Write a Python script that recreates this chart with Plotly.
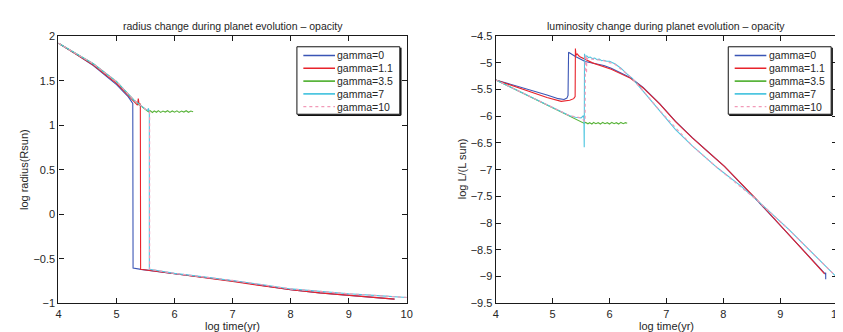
import plotly.graph_objects as go

W, H = 843, 332

# ---------------- data ----------------
names = ["gamma=0", "gamma=1.1", "gamma=3.5", "gamma=7", "gamma=10"]
colors = ["#3a55b5", "#e8232b", "#5ab43c", "#4ec6e0", "#f29ab8"]
dashes = ["solid", "solid", "solid", "solid", "dot"]

x_ticks = [4, 5, 6, 7, 8, 9, 10]
r_ticks = [-1, -0.5, 0, 0.5, 1, 1.5, 2]
l_ticks = [-9.5, -9, -8.5, -8, -7.5, -7, -6.5, -6, -5.5, -5, -4.5]

# radius panel (log time, log radius)
r_t_g0 = [4.0, 4.3, 4.6, 5.0, 5.2, 5.28, 5.285, 5.42, 6.0, 6.5, 7.0, 7.5, 8.0, 8.5, 9.0, 9.5, 9.79]
r_y_g0 = [1.92, 1.80, 1.67, 1.455, 1.32, 1.245, -0.605, -0.62, -0.67, -0.71, -0.75, -0.80, -0.85, -0.885, -0.91, -0.935, -0.955]

r_t_g1 = [4.0, 4.3, 4.6, 5.0, 5.2, 5.36, 5.375, 5.39, 5.41, 5.415, 6.0, 6.5, 7.0, 7.5, 8.0, 8.5, 9.0, 9.5, 9.79]
r_y_g1 = [1.92, 1.80, 1.675, 1.47, 1.34, 1.225, 1.30, 1.23, 1.24, -0.62, -0.67, -0.71, -0.755, -0.805, -0.85, -0.885, -0.91, -0.935, -0.955]

r_t_g35 = [4.0, 4.3, 4.6, 5.0, 5.3, 5.5, 5.55, 5.58, 5.62, 5.65, 5.69, 5.72, 5.76, 5.8, 5.84, 5.88,
           5.92, 5.96, 6.0, 6.04, 6.08, 6.12, 6.16, 6.2, 6.24, 6.28, 6.32]
r_y_g35 = [1.92, 1.805, 1.69, 1.49, 1.28, 1.175, 1.15, 1.162, 1.142, 1.16, 1.145, 1.163, 1.143, 1.158, 1.147, 1.162,
           1.144, 1.16, 1.146, 1.161, 1.143, 1.159, 1.147, 1.162, 1.145, 1.158, 1.15]

r_t_g7 = [4.0, 4.3, 4.6, 5.0, 5.3, 5.5, 5.54, 5.55, 5.56, 5.565, 5.565, 6.0, 6.5, 7.0, 7.5, 8.0, 8.5, 9.0, 9.5, 10.0]
r_y_g7 = [1.92, 1.805, 1.69, 1.49, 1.28, 1.18, 1.165, 1.19, 1.16, 1.15, -0.62, -0.665, -0.705, -0.745, -0.79, -0.84, -0.87, -0.895, -0.915, -0.936]

r_t_g10 = [4.0, 4.3, 4.6, 5.0, 5.3, 5.5, 5.56, 5.57, 5.57, 6.0, 7.0, 8.0, 9.0, 10.0]
r_y_g10 = [1.92, 1.805, 1.69, 1.49, 1.28, 1.18, 1.16, 1.15, -0.62, -0.665, -0.745, -0.84, -0.895, -0.936]

# luminosity panel (log time, log L/Lsun)
l_t_g0 = [4.0, 4.5, 4.9, 5.1, 5.2, 5.25, 5.27, 5.28, 5.4, 5.57, 5.9, 6.03, 6.37, 6.59, 6.88, 7.16,
          7.45, 7.73, 8.02, 8.58, 9.15, 9.79, 9.8, 9.8]
l_y_g0 = [-5.32, -5.47, -5.60, -5.67, -5.685, -5.66, -5.61, -4.80, -4.88, -4.975, -5.05, -5.10, -5.28, -5.46, -5.765, -6.095,
          -6.395, -6.665, -6.94, -7.56, -8.21, -8.95, -8.93, -9.05]

l_t_g1 = [4.0, 4.5, 4.9, 5.15, 5.3, 5.37, 5.395, 5.40, 5.41, 5.43, 5.47, 5.7, 6.03, 6.37, 6.59, 6.88,
          7.16, 7.45, 7.73, 8.02, 8.58, 9.15, 9.78]
l_y_g1 = [-5.32, -5.50, -5.65, -5.72, -5.70, -5.67, -5.63, -4.73, -4.86, -4.83, -4.88, -5.0, -5.12, -5.29, -5.47, -5.77,
          -6.10, -6.40, -6.67, -6.94, -7.55, -8.21, -8.95]

l_t_g35 = [4.0, 4.5, 5.0, 5.3, 5.55, 5.58, 5.62, 5.65, 5.69, 5.72, 5.76, 5.8, 5.84, 5.88,
           5.92, 5.96, 6.0, 6.04, 6.08, 6.12, 6.16, 6.2, 6.24, 6.28, 6.31]
l_y_g35 = [-5.32, -5.58, -5.83, -5.99, -6.13, -6.115, -6.14, -6.12, -6.145, -6.115, -6.14, -6.12, -6.145, -6.115,
           -6.14, -6.12, -6.145, -6.115, -6.14, -6.12, -6.145, -6.115, -6.14, -6.12, -6.13]

l_t_g7 = [4.0, 4.5, 5.0, 5.3, 5.4, 5.5, 5.54, 5.55, 5.555, 5.56, 5.565, 5.575, 5.6, 5.63, 5.66, 5.7,
          5.74, 5.78, 5.82, 5.86, 5.9, 5.95, 6.0, 6.1, 6.2, 6.3, 6.4, 6.59, 6.88, 7.16, 7.45, 7.73,
          7.9, 8.3, 8.58, 9.15, 9.6, 10.0]
l_y_g7 = [-5.32, -5.58, -5.83, -5.99, -6.02, -6.03, -5.99, -6.04, -6.58, -4.83, -4.86, -4.88, -4.87, -4.9, -4.89, -4.92,
          -4.91, -4.94, -4.93, -4.96, -4.95, -4.97, -4.97, -5.02, -5.1, -5.2, -5.29, -5.53, -5.89, -6.25, -6.55, -6.82,
          -6.97, -7.3, -7.56, -8.12, -8.6, -9.02]

l_t_g10 = [4.0, 4.5, 5.0, 5.3, 5.5, 5.57, 5.575, 5.59, 5.595, 5.6, 5.7, 5.9, 6.1, 6.3, 6.4, 6.88, 7.45, 7.9, 8.58, 9.15, 10.0]
l_y_g10 = [-5.32, -5.58, -5.83, -5.99, -6.03, -6.1, -4.85, -4.9, -5.2, -4.92, -4.93, -4.96, -5.03, -5.2, -5.29, -5.89, -6.55, -6.97, -7.56, -8.12, -9.02]

radius_series = [(r_t_g0, r_y_g0), (r_t_g1, r_y_g1), (r_t_g35, r_y_g35), (r_t_g7, r_y_g7), (r_t_g10, r_y_g10)]
lum_series = [(l_t_g0, l_y_g0), (l_t_g1, l_y_g1), (l_t_g35, l_y_g35), (l_t_g7, l_y_g7), (l_t_g10, l_y_g10)]

# ---------------- figure ----------------
FONT = "Liberation Sans, Arial, Helvetica, sans-serif"
TXT = "#262626"

def px_x(p):
    return p / W

def px_y(p):
    return 1 - p / H

fig = go.Figure()

for series, xa, ya in [(radius_series, "x", "y"), (lum_series, "x2", "y2")]:
    for i in range(5):
        t, v = series[i]
        assert len(t) == len(v)
        fig.add_trace(go.Scatter(
            x=t, y=v, mode="lines", name=names[i], showlegend=False,
            line=dict(color=colors[i], width=1.1 if i != 4 else 1.2, dash=dashes[i]),
            xaxis=xa, yaxis=ya, hoverinfo="skip"))

L_X0, L_X1 = 48, 400
R_X0, R_X1 = 490, 835
dom_y = [px_y(300), px_y(23)]
axis_common = dict(showline=True, linecolor="#1a1a1a", linewidth=1.3, mirror="allticks",
                   ticks="inside", ticklen=5, tickwidth=1, tickcolor="#1a1a1a",
                   showgrid=False, zeroline=False,
                   tickfont=dict(family=FONT, size=11, color=TXT))

fig.update_layout(
    width=W, height=H, margin=dict(l=0, r=0, t=0, b=0),
    paper_bgcolor="white", plot_bgcolor="white", showlegend=False,
    xaxis=dict(domain=[px_x(L_X0), px_x(L_X1)], range=[4, 10], tickvals=x_ticks, anchor="y", **axis_common),
    yaxis=dict(domain=dom_y, range=[-1, 2], tickvals=r_ticks, anchor="x", **axis_common),
    xaxis2=dict(domain=[px_x(R_X0), px_x(R_X1)], range=[4, 10], tickvals=x_ticks, anchor="y2", **axis_common),
    yaxis2=dict(domain=dom_y, range=[-9.5, -4.5], tickvals=l_ticks, anchor="x2", **axis_common),
)

annotations = []
shapes = []

def text(x, y, s, size=11, xanchor="center", angle=0):
    annotations.append(dict(x=px_x(x), y=px_y(y), xref="paper", yref="paper", text=s,
                            showarrow=False, xanchor=xanchor, yanchor="middle", textangle=angle,
                            font=dict(family=FONT, size=size, color=TXT)))

# titles and axis labels
text((L_X0 + L_X1) / 2, 12, "radius change during planet evolution – opacity", size=10.5)
text((R_X0 + R_X1) / 2, 12, "luminosity change during planet evolution – opacity", size=10.5)
text((L_X0 + L_X1) / 2, 324, "log time(yr)")
text((R_X0 + R_X1) / 2, 324, "log time(yr)")
text(13, 161, "log radius(Rsun)", angle=-90)
text(456, 161, "log L/(L sun)", angle=-90)

# legends (upper right corner of each axes)
for bx1 in [L_X1 - 7, R_X1 - 6]:
    bx0 = bx1 - 104
    by0, by1 = 34, 104
    shapes.append(dict(type="rect", xref="paper", yref="paper",
                       x0=px_x(bx0), x1=px_x(bx1), y0=px_y(by1), y1=px_y(by0),
                       line=dict(color="#111111", width=1), fillcolor="white", layer="above"))
    shapes.append(dict(type="line", xref="paper", yref="paper",
                       x0=px_x(bx0 + 1), x1=px_x(bx1 + 1), y0=px_y(by1 + 1), y1=px_y(by1 + 1),
                       line=dict(color="#111111", width=1.5), layer="above"))
    shapes.append(dict(type="line", xref="paper", yref="paper",
                       x0=px_x(bx1 + 1), x1=px_x(bx1 + 1), y0=px_y(by0 + 1), y1=px_y(by1 + 1),
                       line=dict(color="#111111", width=1.5), layer="above"))
    for k in range(5):
        yy = 43 + 13.3 * k
        shapes.append(dict(type="line", xref="paper", yref="paper",
                           x0=px_x(bx0 + 6.5), x1=px_x(bx0 + 38.5), y0=px_y(yy), y1=px_y(yy),
                           line=dict(color=colors[k], width=1.6 if k != 4 else 1.2, dash=dashes[k]),
                           layer="above"))
        text(bx0 + 39, yy, names[k], size=10.5, xanchor="left")

fig.update_layout(annotations=annotations, shapes=shapes)
fig.write_html("out.html")
